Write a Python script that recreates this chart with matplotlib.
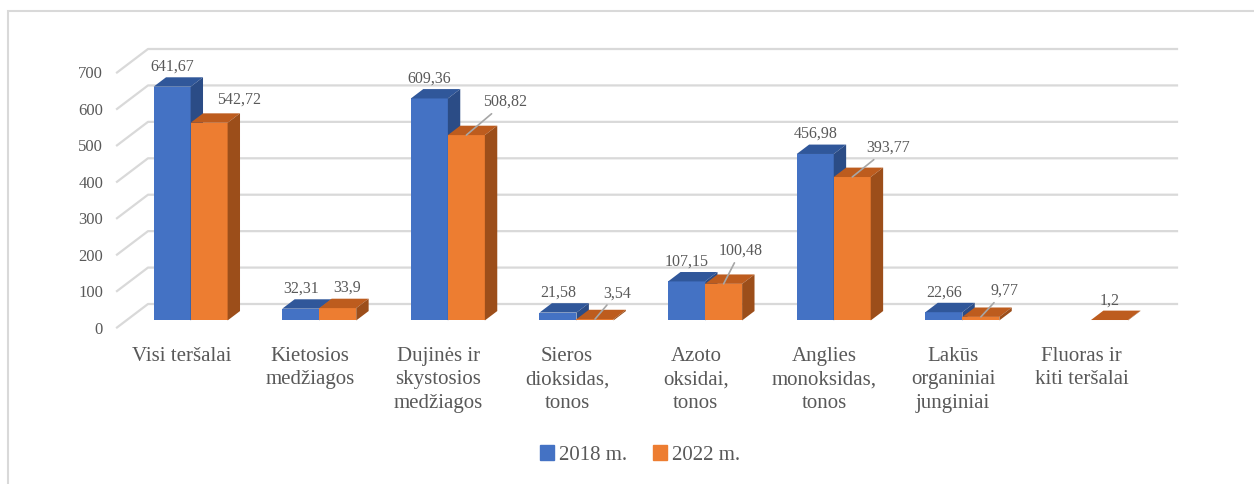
import numpy as np
import matplotlib
matplotlib.use('Agg')
import matplotlib.pyplot as plt
from matplotlib.patches import Polygon, Rectangle
from matplotlib.lines import Line2D

# data
categories = ['Visi teršalai', 'Kietosios\nmedžiagos', 'Dujinės ir\nskystosios\nmedžiagos',
              'Sieros\ndioksidas,\ntonos', 'Azoto\noksidai,\ntonos', 'Anglies\nmonoksidas,\ntonos',
              'Lakūs\norganiniai\njunginiai', 'Fluoras ir\nkiti teršalai']
v2018 = [641.67, 32.31, 609.36, 21.58, 107.15, 456.98, 22.66, np.nan]
v2022 = [542.72, 33.9, 508.82, 3.54, 100.48, 393.77, 9.77, 1.2]
series_names = ['2018 m.', '2022 m.']
yticks = [0, 100, 200, 300, 400, 500, 600, 700]

# label placement (pixels from bar front-top centre), leader line flag
off2018 = [(0, 20)] * 8
off2022 = [(30, 23), (9, 20), (39, 33), (22, 26), (17, 33), (36, 29), (24, 26), (0, 19)]
lead2022 = [False, False, True, True, True, True, True, False]

plt.rcParams['font.family'] = ['Liberation Serif', 'DejaVu Serif']
txt = '#595959'
grid_c = '#D9D9D9'
colors = {'2018 m.': ('#4472C4', '#30579A', '#2B4C86'),
          '2022 m.': ('#ED7D31', '#BD5C1E', '#9C4E1A')}

W, H = 1254, 484
fig = plt.figure(figsize=(W / 100, H / 100), dpi=100)

# chart border
fig.add_artist(Rectangle((7.5 / W, -0.1), 1.2, (H - 11.5) / H + 0.1, transform=fig.transFigure,
                         fill=False, edgecolor=grid_c, lw=1.5))

x_left, x_right = 117, 1146
y0, y700 = 327.5, 72.5
ax = fig.add_axes([x_left / W, (H - y0) / H, (x_right - x_left) / W, (y0 - y700) / H])
n = len(categories)
ax.set_xlim(0, n)
ax.set_ylim(0, 700)
for s in ax.spines.values():
    s.set_visible(False)

# floor depth in data units
DX = 31 / ((x_right - x_left) / n)
DY = 23.5 / ((y0 - y700) / 700)
d0, d1 = 0.3, 0.7
bw = 37 / ((x_right - x_left) / n)

# gridlines: side wall + back wall
for t in yticks:
    ax.add_line(Line2D([0, DX, n + DX], [t, t + DY, t + DY], color=grid_c, lw=1.6,
                       clip_on=False, zorder=0))

ax.set_yticks(yticks)
ax.set_yticklabels([str(t) for t in yticks], fontsize=12, color=txt)
ax.set_xticks(np.arange(n) + 0.5)
ax.set_xticklabels(categories, fontsize=15, color=txt, linespacing=1.32, va='top')
ax.tick_params(axis='both', length=0)
ax.tick_params(axis='y', pad=10)
ax.tick_params(axis='x', pad=14)

centers = np.arange(n) + 0.5
for k, (name, vals) in enumerate(zip(series_names, [v2018, v2022])):
    front, top, side = colors[name]
    offs = off2018 if k == 0 else off2022
    for i, v in enumerate(vals):
        if np.isnan(v):
            continue
        xl = centers[i] - bw + k * bw + d0 * DX
        xr = xl + bw
        b0 = d0 * DY
        ax.bar(xl, v, width=bw, bottom=b0, align='edge', color=front, lw=0,
               clip_on=False, zorder=2 + i * 2 + k)
        ddx, ddy = (d1 - d0) * DX, (d1 - d0) * DY
        ax.add_patch(Polygon([(xl, v + b0), (xr, v + b0), (xr + ddx, v + b0 + ddy),
                              (xl + ddx, v + b0 + ddy)], closed=True, color=top, lw=0,
                             clip_on=False, zorder=2 + i * 2 + k))
        ax.add_patch(Polygon([(xr, b0), (xr + ddx, b0 + ddy), (xr + ddx, v + b0 + ddy),
                              (xr, v + b0)], closed=True, color=side, lw=0,
                             clip_on=False, zorder=2 + i * 2 + k))
        label = f'{v:g}'.replace('.', ',')
        lead = k == 1 and lead2022[i]
        ax.annotate(label, xy=(xl + bw / 2, v + b0), xytext=offs[i], textcoords='offset pixels',
                    ha='center', va='center', fontsize=11.5, color=txt, zorder=30,
                    annotation_clip=False,
                    arrowprops=dict(arrowstyle='-', color='#A6A6A6', lw=1.2,
                                    shrinkA=1, shrinkB=0) if lead else None)

handles = [Rectangle((0, 0), 1, 1, color=colors[s][0]) for s in series_names]
fig.legend(handles, series_names, loc='center', bbox_to_anchor=(640 / W, 1 - 455 / H),
           ncol=2, frameon=False, fontsize=15, labelcolor=txt, handlelength=0.7,
           handleheight=0.7, handletextpad=0.25, columnspacing=1.2)

fig.savefig('out.png', dpi=100)
